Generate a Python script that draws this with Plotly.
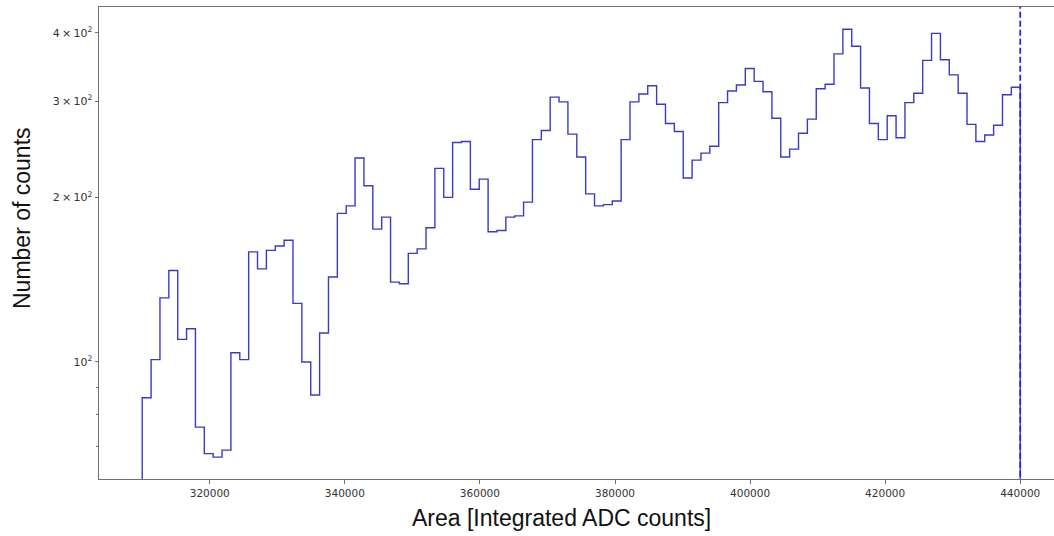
import numpy as np
import plotly.graph_objects as go

# Histogram: 99 equal bins between these limits
bin_lo = 310000
bin_hi = 440000
n_bins = 99
counts = [86, 101, 131, 147, 110, 115, 76, 68, 67, 69,
          104, 101, 159, 148, 160, 163, 167, 128, 100, 87,
          113, 143, 187, 193, 236, 210, 175, 184, 140, 139,
          158, 161, 176, 226, 200, 252, 253, 207, 216, 173,
          174, 184, 185, 196, 255, 265, 305, 299, 261, 237,
          203, 193, 194, 197, 255, 299, 309, 320, 296, 273,
          264, 217, 234, 241, 248, 298, 313, 321, 344, 326,
          312, 279, 237, 245, 262, 278, 316, 322, 366, 406,
          378, 317, 273, 255, 282, 257, 298, 310, 356, 399,
          357, 335, 310, 272, 253, 260, 271, 308, 318]
vline_x = 440000

x_tick_vals = [320000, 340000, 360000, 380000, 400000, 420000, 440000]
y_tick_vals = [100, 200, 300, 400]
y_tick_text = ["10<sup>2</sup>", "2\u2009\u00d7\u200910<sup>2</sup>",
               "3\u2009\u00d7\u200910<sup>2</sup>", "4\u2009\u00d7\u200910<sup>2</sup>"]
y_minor_vals = [70, 80, 90]

edges = np.linspace(bin_lo, bin_hi, n_bins + 1)
floor_val = 1
xs = [edges[0]] + list(edges[:-1]) + [edges[-1], edges[-1]]
ys = [floor_val] + counts + [counts[-1], floor_val]

fig = go.Figure()
fig.add_trace(go.Scatter(x=xs, y=ys, mode="lines", line_shape="hv",
                         line=dict(color="rgb(58,58,200)", width=1.4),
                         showlegend=False, hoverinfo="skip"))
fig.add_trace(go.Scatter(x=[vline_x, vline_x], y=[10, 10000], mode="lines",
                         line=dict(color="rgb(40,40,215)", width=1.8, dash="6px,3px"),
                         showlegend=False, hoverinfo="skip"))

PL, PT, PB, PW = 99, 7, 479, 955
PH = PB - PT

fig.update_layout(
    width=1054, height=536,
    margin=dict(l=PL, r=0, t=PT, b=536 - PB, pad=0),
    paper_bgcolor="white", plot_bgcolor="white",
    font=dict(family="DejaVu Sans", color="#333333"),
    xaxis=dict(range=[303600, 445000], showgrid=False, zeroline=False,
               showline=True, linecolor="#707070", linewidth=1, mirror=True,
               ticks="outside", ticklen=4, tickcolor="#707070",
               tickvals=x_tick_vals, ticktext=[str(v) for v in x_tick_vals],
               tickfont=dict(size=10.5, color="#333333")),
    yaxis=dict(type="log", range=[np.log10(61.1), np.log10(445.8)],
               showgrid=False, zeroline=False, showline=True,
               linecolor="#707070", linewidth=1,
               ticks="outside", ticklen=3.5, tickcolor="#707070",
               tickvals=y_tick_vals, ticktext=y_tick_text,
               tickfont=dict(size=11, color="#333333"),
               minor=dict(tickvals=y_minor_vals, ticks="outside", ticklen=2.5,
                          tickcolor="#707070", showgrid=False)),
    annotations=[
        dict(text="Area [Integrated ADC counts]", xref="paper", yref="paper",
             x=(561 - PL) / PW, y=(PB - 518) / PH, showarrow=False,
             xanchor="center", yanchor="middle",
             font=dict(family="Liberation Sans", size=23, color="#111111")),
        dict(text="Number of counts", xref="paper", yref="paper",
             x=(22 - PL) / PW, y=(PB - 218) / PH, showarrow=False,
             textangle=-90, xanchor="center", yanchor="middle",
             font=dict(family="Liberation Sans", size=23, color="#111111")),
    ],
)

fig.write_html("out.html")
